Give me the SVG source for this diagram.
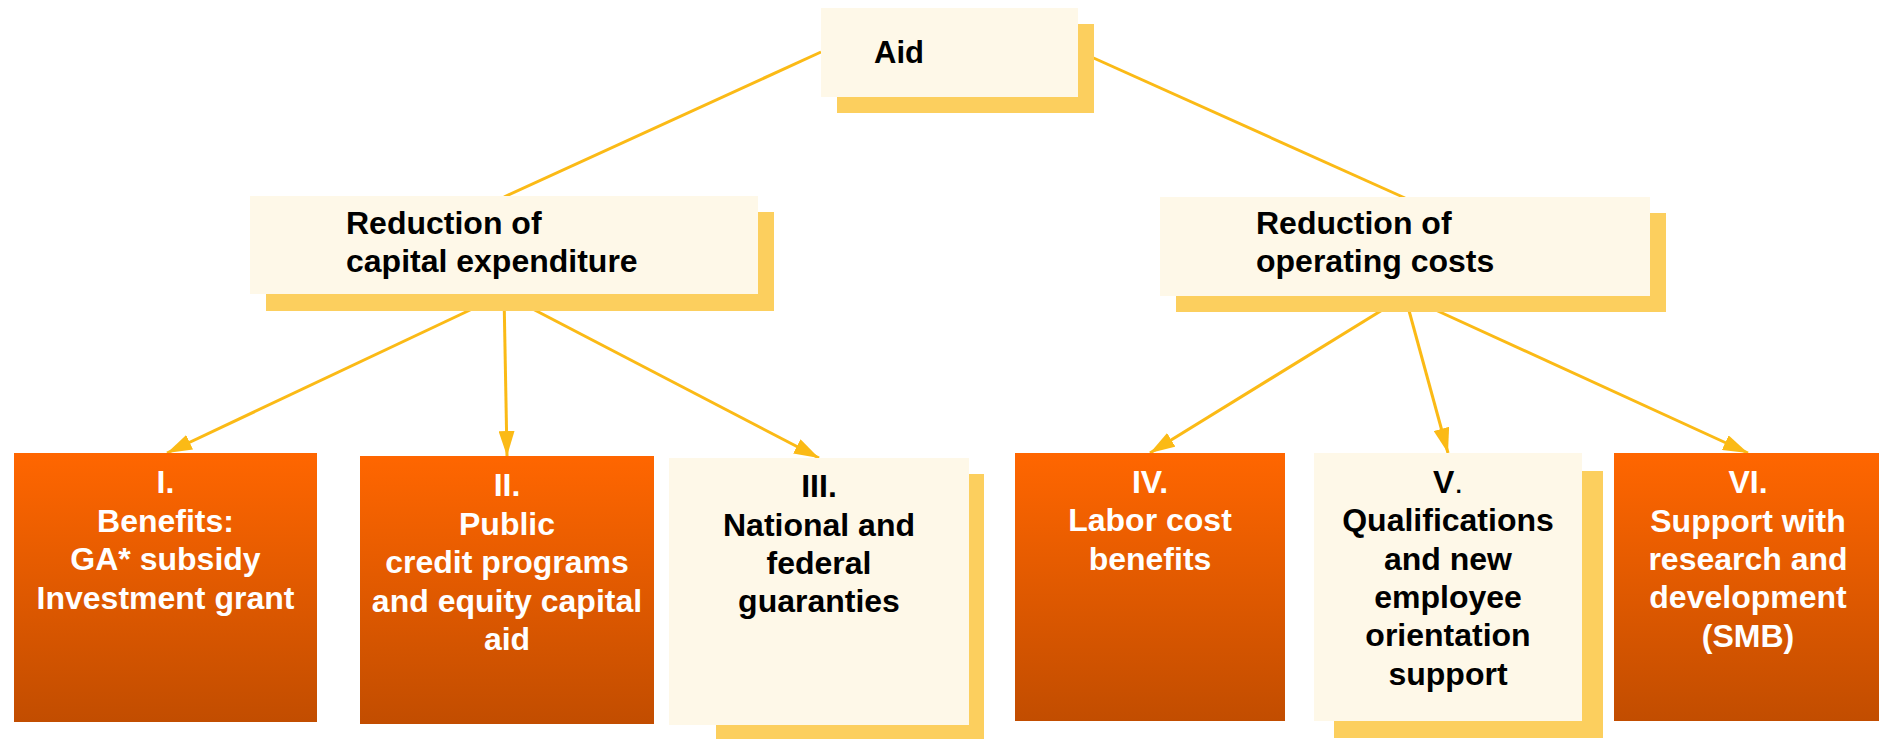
<svg xmlns="http://www.w3.org/2000/svg" width="1879" height="739" viewBox="0 0 1879 739">
<defs>
<linearGradient id="og" x1="0" y1="0" x2="0" y2="1">
<stop offset="0" stop-color="#FF6600"/>
<stop offset="1" stop-color="#C24D00"/>
</linearGradient>
<marker id="ah" markerWidth="25" markerHeight="16" refX="25" refY="8" orient="auto" markerUnits="userSpaceOnUse">
<path d="M0,0 L25,8 L0,16 Z" fill="#FBBA16"/>
</marker>
<style>
.sh{fill:#FCCF5E}
.cr{fill:#FEF8E8}
.or{fill:url(#og)}
text{font-family:"Liberation Sans",Arial,Helvetica,sans-serif;font-weight:bold;font-size:32px}
.w{fill:#FFFFFF;text-anchor:middle}
.b{fill:#000000;text-anchor:middle}
.s{fill:#000000}
.ln{stroke:#FBBA16;stroke-width:3;fill:none}
.ar{stroke:#FBBA16;stroke-width:3;fill:none;marker-end:url(#ah)}
</style>
</defs>
<rect width="1879" height="739" fill="#FFFFFF"/>
<g id="connectors">
<line class="ln" x1="821" y1="52" x2="504" y2="197"/>
<line class="ln" x1="1078" y1="51" x2="1405" y2="198"/>
<line class="ar" x1="504" y1="294" x2="167" y2="453"/>
<line class="ar" x1="504" y1="294" x2="507" y2="456"/>
<line class="ar" x1="504" y1="294" x2="819" y2="458"/>
<line class="ar" x1="1405" y1="296" x2="1150" y2="453"/>
<line class="ar" x1="1405" y1="296" x2="1448" y2="453"/>
<line class="ar" x1="1405" y1="296" x2="1748" y2="453"/>
</g>
<g id="aid">
<rect class="sh" x="837" y="24" width="257" height="89"/>
<rect class="cr" x="821" y="8" width="257" height="89"/>
<text class="s" x="874" y="63" style="font-size:31px">Aid</text>
</g>
<g id="capital">
<rect class="sh" x="266" y="212" width="508" height="99"/>
<rect class="cr" x="250" y="196" width="508" height="98"/>
<text class="s" x="346" y="234">Reduction of</text>
<text class="s" x="346" y="272">capital expenditure</text>
</g>
<g id="operating">
<rect class="sh" x="1176" y="213" width="490" height="99"/>
<rect class="cr" x="1160" y="197" width="490" height="99"/>
<text class="s" x="1256" y="234">Reduction of</text>
<text class="s" x="1256" y="272">operating costs</text>
</g>
<g id="n1">
<rect class="or" x="14" y="453" width="303" height="269"/>
<text class="w" x="165.5" y="493">I.</text>
<text class="w" x="165.5" y="531.5">Benefits:</text>
<text class="w" x="165.5" y="570">GA* subsidy</text>
<text class="w" x="165.5" y="608.5">Investment grant</text>
</g>
<g id="n2">
<rect class="or" x="360" y="456" width="294" height="268"/>
<text class="w" x="507" y="496">II.</text>
<text class="w" x="507" y="535">Public</text>
<text class="w" x="507" y="573">credit programs</text>
<text class="w" x="507" y="612">and equity capital</text>
<text class="w" x="507" y="650">aid</text>
</g>
<g id="n3">
<rect class="sh" x="716" y="474" width="268" height="265"/>
<rect class="cr" x="669" y="458" width="300" height="267"/>
<text class="b" x="819" y="497">III.</text>
<text class="b" x="819" y="535.5">National and</text>
<text class="b" x="819" y="573.5">federal</text>
<text class="b" x="819" y="612">guaranties</text>
</g>
<g id="n4">
<rect class="or" x="1015" y="453" width="270" height="268"/>
<text class="w" x="1150" y="493">IV.</text>
<text class="w" x="1150" y="531">Labor cost</text>
<text class="w" x="1150" y="569.5">benefits</text>
</g>
<g id="n5">
<rect class="sh" x="1334" y="471" width="269" height="267"/>
<rect class="cr" x="1314" y="453" width="268" height="268"/>
<text class="b" x="1448" y="493">V<tspan font-weight="normal">.</tspan></text>
<text class="b" x="1448" y="531">Qualifications</text>
<text class="b" x="1448" y="569.5">and new</text>
<text class="b" x="1448" y="608">employee</text>
<text class="b" x="1448" y="646">orientation</text>
<text class="b" x="1448" y="684.5">support</text>
</g>
<g id="n6">
<rect class="or" x="1614" y="453" width="268" height="268"/>
<text class="w" x="1748" y="493">VI.</text>
<text class="w" x="1748" y="531.5">Support with</text>
<text class="w" x="1748" y="570">research and</text>
<text class="w" x="1748" y="608">development</text>
<text class="w" x="1748" y="646.5">(SMB)</text>
</g>
</svg>
